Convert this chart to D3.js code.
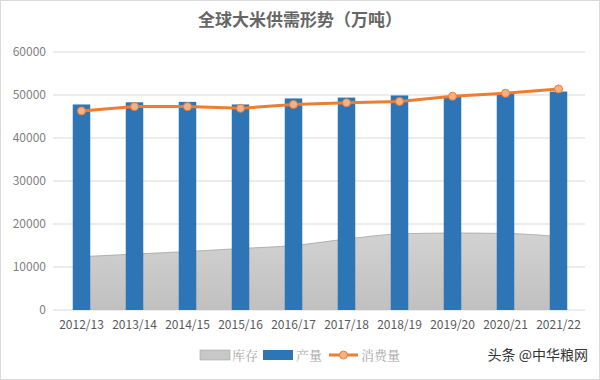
<!DOCTYPE html>
<html><head><meta charset="utf-8">
<script src="https://cdn.jsdelivr.net/npm/d3@7/dist/d3.min.js"></script>
<style>html,body{margin:0;padding:0;background:#fff;}svg{display:block;}</style>
</head><body>
<svg id="c" width="600" height="380"></svg>
<script>
const categories = ["2012/13","2013/14","2014/15","2015/16","2016/17","2017/18","2018/19","2019/20","2020/21","2021/22"];
const stock = [12400, 13000, 13600, 14300, 15000, 16500, 17700, 17900, 17800, 17100];
const production = [47800, 48300, 48400, 47800, 49200, 49400, 49900, 49600, 50400, 50800];
const consumption = [46300, 47300, 47300, 46900, 47800, 48200, 48500, 49700, 50400, 51400];
const yTicks = [0, 10000, 20000, 30000, 40000, 50000, 60000];
const seriesNames = ["库存", "产量", "消费量"];
const title = "全球大米供需形势（万吨）";
const watermark = "头条 @中华粮网";

(function(){
const svg = d3.select("#c");
const font = "'Noto Sans CJK SC', 'Noto Sans', sans-serif";
const pl = 55, pr = 585, pt = 52, pb = 310;

svg.append("rect").attr("x",0.5).attr("y",0.5).attr("width",599).attr("height",379)
  .attr("fill","#fff").attr("stroke","#d9d9d9");

const x = d3.scaleBand().domain(categories).range([pl, pr]).padding(0.67).paddingOuter(0.335);
const y = d3.scaleLinear().domain([0, 60000]).range([pb, pt]);
const cx = d => x(d) + x.bandwidth()/2;

const defs = svg.append("defs");
const g = defs.append("linearGradient").attr("id","ag").attr("x1",0).attr("y1",0).attr("x2",0).attr("y2",1);
g.append("stop").attr("offset","0%").attr("stop-color","#d2d2d2");
g.append("stop").attr("offset","100%").attr("stop-color","#c0c0c0");

svg.append("g").selectAll("line").data(yTicks).join("line")
  .attr("x1", 53).attr("x2", pr).attr("y1", d=>y(d)).attr("y2", d=>y(d))
  .attr("stroke", "#d9d9d9").attr("stroke-width", 1);

const yAxis = d3.axisLeft(y).tickValues(yTicks).tickSize(0).tickPadding(0).tickFormat(d3.format("d"));
const ya = svg.append("g").attr("transform", `translate(46,0)`).call(yAxis);
ya.select(".domain").remove();
ya.selectAll("text").attr("fill","#7f7f7f").style("font-family",font).style("font-size","12px");

const area = d3.area().x((d,i)=>cx(categories[i])).y0(y(0)).y1(d=>y(d)).curve(d3.curveMonotoneX);
svg.append("path").datum(stock).attr("d", area).attr("fill","url(#ag)");
const aline = d3.line().x((d,i)=>cx(categories[i])).y(d=>y(d)).curve(d3.curveMonotoneX);
svg.append("path").datum(stock).attr("d", aline).attr("fill","none").attr("stroke","#a5a5a5").attr("stroke-width",0.8);

svg.append("g").selectAll("rect").data(production).join("rect")
  .attr("x",(d,i)=>x(categories[i])).attr("width",x.bandwidth())
  .attr("y",d=>y(d)).attr("height",d=>y(0)-y(d)).attr("fill","#2e75b6");

const line = d3.line().x((d,i)=>cx(categories[i])).y(d=>y(d));
svg.append("path").datum(consumption).attr("d", line).attr("fill","none")
  .attr("stroke","#ed7d31").attr("stroke-width",3);
svg.append("g").selectAll("circle").data(consumption).join("circle")
  .attr("cx",(d,i)=>cx(categories[i])).attr("cy",d=>y(d)).attr("r",4)
  .attr("fill","#f4b183").attr("stroke","#ed7d31").attr("stroke-width",1);

const xAxis = d3.axisBottom(x).tickSize(0).tickPadding(10);
const xa = svg.append("g").attr("transform",`translate(0,${pb})`).call(xAxis);
xa.select(".domain").remove();
xa.selectAll("text").attr("fill","#595959").style("font-family",font).style("font-size","12px");

svg.append("text").attr("x",300).attr("y",26).attr("text-anchor","middle")
  .attr("fill","#666").style("font-family",font).style("font-size","17px").style("font-weight","bold")
  .text(title);

const ly = 355;
const lg = svg.append("g").style("font-family","'Noto Serif CJK SC','Noto Sans CJK SC',serif").style("font-size","13px");
lg.append("rect").attr("x",200).attr("y",ly-5).attr("width",30).attr("height",10).attr("fill","#c8c8c8").attr("stroke","#a5a5a5").attr("stroke-width",0.6);
lg.append("text").attr("x",232).attr("y",ly+4.5).attr("fill","#a6a6a6").text(seriesNames[0]);
lg.append("rect").attr("x",263).attr("y",ly-5).attr("width",30).attr("height",10).attr("fill","#2e75b6");
lg.append("text").attr("x",296).attr("y",ly+4.5).attr("fill","#a6a6a6").text(seriesNames[1]);
lg.append("line").attr("x1",329).attr("x2",358).attr("y1",ly).attr("y2",ly).attr("stroke","#ed7d31").attr("stroke-width",3);
lg.append("circle").attr("cx",343.5).attr("cy",ly).attr("r",4).attr("fill","#f4b183").attr("stroke","#ed7d31");
lg.append("text").attr("x",361).attr("y",ly+4.5).attr("fill","#a6a6a6").text(seriesNames[2]);

svg.append("text").attr("x",588).attr("y",ly+5).attr("text-anchor","end").attr("fill","#333")
  .style("font-family",font).style("font-size","14px").text(watermark);
})();
</script>
</body></html>
